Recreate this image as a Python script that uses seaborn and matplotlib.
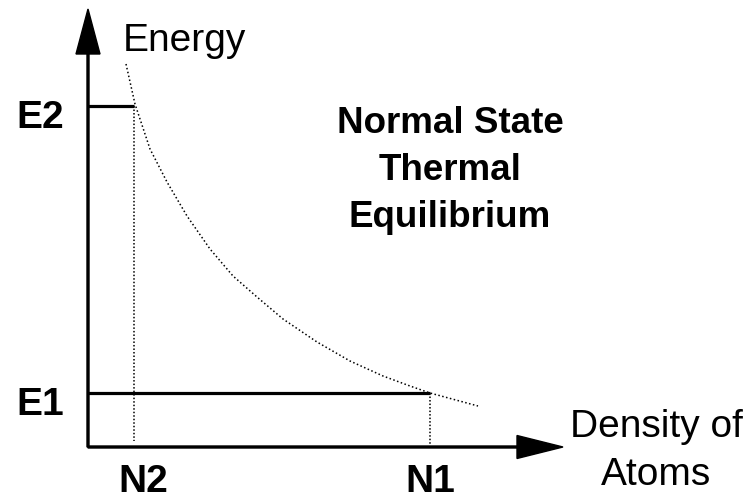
import matplotlib
matplotlib.use('Agg')
import matplotlib.pyplot as plt
import seaborn as sns
import pandas as pd

# Energy levels and populations (diagram units)
E1, E2 = 54, 341
N1, N2 = 342, 46

# Boltzmann curve, points
density = [38, 47, 62, 79, 99, 122, 145, 169, 195, 229, 262, 295, 322, 342, 390]
energy = [383, 343, 298, 265, 231, 198, 171, 150, 128, 105, 86, 71, 61, 54, 41]

title_lines = ['Normal State', 'Thermal', 'Equilibrium']

sns.set_theme(style='white')
plt.rcParams['font.family'] = ['Liberation Sans', 'DejaVu Sans']
plt.rcParams['text.color'] = 'black'

fig = plt.figure(figsize=(7.49, 5.02), dpi=100)
ax = fig.add_axes([0, 0, 1, 1])
ax.set_xlim(-88, 661)
ax.set_ylim(-54, 448)
ax.axis('off')

df = pd.DataFrame({'density': density, 'energy': energy})
sns.lineplot(data=df, x='density', y='energy', sort=False, ax=ax,
             color='black', lw=1.1, linestyle=(0, (1, 1.6)))

# axes with arrows
ax.arrow(0, 0, 475, 0, width=2, head_width=23, head_length=46,
         length_includes_head=True, fc='black', ec='black')
ax.arrow(0, 0, 0, 438, width=2, head_width=24, head_length=45,
         length_includes_head=True, fc='black', ec='black')

# energy levels
ax.plot([0, N2], [E2, E2], color='black', lw=2.3, solid_capstyle='butt')
ax.plot([0, N1], [E1, E1], color='black', lw=2.3, solid_capstyle='butt')
# population markers
ax.plot([N2, N2], [E2, 6], color='black', lw=1.1, linestyle=(0, (1, 1.3)))
ax.plot([N1, N1], [E1, 3], color='black', lw=1.1, linestyle=(0, (1, 1.3)))

fs = 28
ax.text(35, 397, 'Energy', fontsize=fs, ha='left', va='baseline')
ax.text(-72, 320, 'E2', fontsize=fs, fontweight='bold', ha='left', va='baseline')
ax.text(-72, 33, 'E1', fontsize=fs, fontweight='bold', ha='left', va='baseline')
ax.text(N2 + 9, -52, 'N2', fontsize=fs, fontweight='bold', ha='center', va='bottom')
ax.text(N1, -52, 'N1', fontsize=fs, fontweight='bold', ha='center', va='bottom')
ax.text(568, 11, 'Density of', fontsize=fs, ha='center', va='baseline')
ax.text(568, -37, 'Atoms', fontsize=fs, ha='center', va='baseline')
for i, line in enumerate(title_lines):
    ax.text(362, 315 - 47 * i, line, fontsize=26.5, fontweight='bold',
            ha='center', va='baseline')

fig.savefig('out.png', dpi=100)
